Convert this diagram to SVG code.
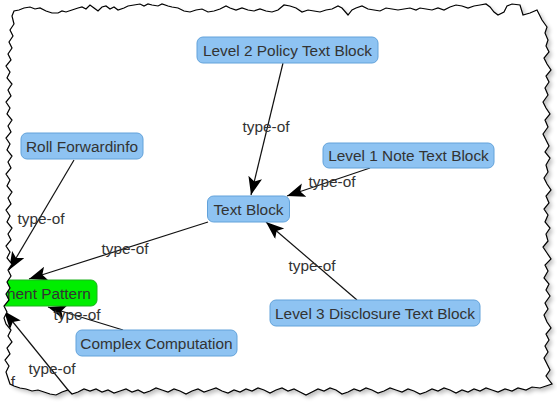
<svg xmlns="http://www.w3.org/2000/svg" width="557" height="402" viewBox="0 0 557 402">
<style>
.node rect{fill:#8EC3F2;stroke:#62A2DA;stroke-width:1}
.node text,.lbl{font-family:"Liberation Sans",Arial,sans-serif;font-size:15.4px;fill:#333}
.node text{text-anchor:middle}
.lbl{text-anchor:middle}
.edge{stroke:#111;stroke-width:1.2;fill:none;marker-end:url(#arr)}
</style>
<defs>
<marker id="arr" markerUnits="userSpaceOnUse" markerWidth="20" markerHeight="16" refX="18" refY="7" orient="auto">
<path d="M0,0 L18,7 L0,14 L4,7 Z" fill="#000"/>
</marker>
<path id="torn" d="M12,16 L14,11 L19,10 L24,8 L30,7 L35,9 L40,8 L46,11 L52,13 L58,13 L62,11 L66,12 L72,10 L78,8 L82,7 L86,9 L90,5 L94,8 L98,11 L102,7 L106,6 L110,9 L114,7 L118,10 L124,8 L128,6 L134,5 L140,4 L144,6 L148,4 L152,5 L158,6 L162,4 L168,6 L172,7 L178,8 L184,11 L190,12 L196,10 L202,9 L208,12 L214,11 L220,9 L226,6 L230,8 L236,10 L242,8 L248,10 L254,11 L260,9 L266,11 L272,12 L278,10 L284,5 L290,6 L296,8 L302,12 L308,10 L314,11 L320,12 L326,10 L332,9 L338,6 L342,8 L348,15 L352,10 L356,8 L362,6 L368,9 L374,10 L380,11 L386,8 L392,9 L398,10 L404,9 L410,8 L416,10 L420,8 L426,9 L432,10 L438,8 L444,10 L450,7 L456,5 L462,6 L468,8 L474,6 L480,5 L486,4 L490,7 L494,12 L498,15 L504,12 L507,6 L512,4 L520,5 L523,15 L530,13 L537,10 L542,20 L547,27 L545,33 L548,40 L546,46 L549,52 L544,58 L547,64 L551,70 L546,76 L549,82 L545,88 L548,95 L543,102 L546,108 L550,114 L545,120 L548,127 L543,134 L546,140 L549,146 L545,152 L550,158 L546,165 L548,172 L544,178 L547,184 L551,190 L546,196 L549,203 L544,209 L548,215 L545,222 L550,228 L546,234 L548,241 L543,247 L547,253 L551,259 L545,265 L548,271 L544,278 L549,284 L546,290 L550,296 L545,303 L548,309 L544,315 L547,322 L551,328 L546,334 L549,340 L545,346 L548,352 L544,358 L547,364 L550,370 L546,376 L549,380 L552,384 L546,386 L540,388 L532,387 L526,390 L518,388 L512,391 L505,389 L498,392 L492,390 L486,388 L480,391 L474,389 L468,392 L462,390 L456,393 L450,390 L444,388 L438,391 L432,389 L426,392 L420,394 L414,391 L408,389 L402,392 L396,390 L390,388 L384,391 L378,393 L372,390 L366,388 L360,391 L354,389 L348,392 L342,394 L336,390 L330,388 L324,391 L318,389 L312,392 L306,395 L300,392 L294,389 L288,391 L282,388 L276,390 L270,393 L264,390 L258,388 L252,391 L246,389 L240,392 L234,390 L228,393 L222,391 L216,388 L210,390 L204,392 L198,389 L192,391 L186,394 L180,391 L174,389 L168,392 L162,390 L156,388 L150,391 L144,393 L138,390 L132,392 L126,389 L120,391 L114,393 L108,390 L102,392 L96,389 L90,391 L84,389 L78,392 L72,394 L68,390 L62,392 L56,395 L50,394 L44,392 L38,390 L32,391 L26,389 L20,388 L14,386 L10,384 L8,378 L6,372 L9,366 L5,360 L10,354 L7,348 L12,342 L8,336 L11,330 L6,324 L4,318 L7,312 L4,306 L9,300 L6,294 L10,288 L7,282 L11,276 L8,270 L12,264 L7,258 L10,252 L6,246 L11,240 L8,234 L12,228 L7,222 L10,216 L6,210 L11,204 L8,198 L12,192 L7,186 L10,180 L6,174 L11,168 L8,162 L12,156 L7,150 L10,144 L6,138 L11,132 L8,126 L12,120 L7,114 L10,108 L6,102 L11,96 L8,90 L12,84 L7,78 L10,72 L6,66 L11,60 L8,54 L12,48 L9,42 L13,36 L10,30 L14,24 Z"/>
<clipPath id="clip"><use href="#torn"/></clipPath>
<filter id="sh" x="-5%" y="-5%" width="110%" height="110%"><feGaussianBlur stdDeviation="2"/></filter>
</defs>
<rect width="557" height="402" fill="#fff"/>
<use href="#torn" fill="#000" opacity="0.25" transform="translate(3,3)" filter="url(#sh)"/>
<use href="#torn" fill="#fff"/>
<g clip-path="url(#clip)">
<g id="connectors">
<line class="edge" x1="283" y1="63" x2="251" y2="195"/>
<line class="edge" x1="370" y1="168" x2="287" y2="196"/>
<line class="edge" x1="357" y1="300" x2="266" y2="222"/>
<line class="edge" x1="208" y1="222" x2="29" y2="279"/>
<line class="edge" x1="74" y1="160" x2="9" y2="270"/>
<line class="edge" x1="123" y1="330" x2="48" y2="307"/>
<line class="edge" x1="68" y1="390" x2="4" y2="311"/>
<text class="lbl" x="266" y="132">type-of</text>
<text class="lbl" x="332" y="187">type-of</text>
<text class="lbl" x="312" y="271">type-of</text>
<text class="lbl" x="125" y="254">type-of</text>
<text class="lbl" x="41" y="224">type-of</text>
<text class="lbl" x="77" y="320">type-of</text>
<text class="lbl" x="52" y="374">type-of</text>
<text class="lbl" x="13" y="387">f</text>
</g>
<g id="n-level2" class="node"><rect x="197" y="37" width="181" height="26" rx="6"/><text x="287.5" y="55.5">Level 2 Policy Text Block</text></g>
<g id="n-level1" class="node"><rect x="323" y="143" width="171" height="25" rx="6"/><text x="408.5" y="160.5">Level 1 Note Text Block</text></g>
<g id="n-roll" class="node"><rect x="21" y="133" width="122" height="26" rx="6"/><text x="82" y="151.5">Roll Forwardinfo</text></g>
<g id="n-textblock" class="node"><rect x="207.5" y="196" width="82" height="26" rx="6"/><text x="248.5" y="214.5">Text Block</text></g>
<g id="n-level3" class="node"><rect x="270" y="300" width="210" height="26" rx="6"/><text x="375" y="318.5">Level 3 Disclosure Text Block</text></g>
<g id="n-complex" class="node"><rect x="76" y="330" width="161" height="26" rx="6"/><text x="156.5" y="348.5">Complex Computation</text></g>
<g id="n-pattern"><rect x="-60" y="280" width="157" height="26" rx="6" fill="#00EE00" stroke="#1FB01F"/><text x="7" y="298.5" font-family="Liberation Sans, Arial, sans-serif" font-size="15.4" fill="#333">nent Pattern</text></g>
</g>
<use href="#torn" fill="none" stroke="#000" stroke-width="1.2"/>
</svg>
